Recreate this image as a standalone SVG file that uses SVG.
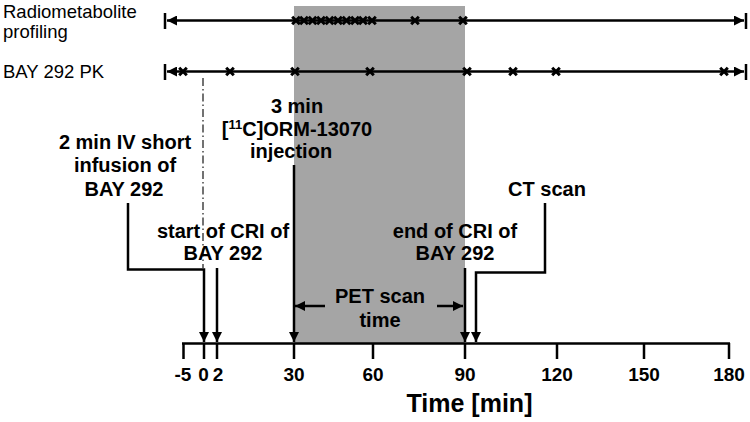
<svg xmlns="http://www.w3.org/2000/svg" width="750" height="422" viewBox="0 0 750 422">
<style>
.lbl{font-family:"Liberation Sans",Arial,sans-serif;font-size:18.5px;fill:#000}
.b{font-family:"Liberation Sans",Arial,sans-serif;font-size:20px;font-weight:bold;fill:#000;text-anchor:middle}
.tk{font-family:"Liberation Sans",Arial,sans-serif;font-size:19px;font-weight:bold;fill:#000;text-anchor:middle}
.ln{stroke:#000;stroke-width:2.5;fill:none}
.xm{stroke:#000;stroke-width:3;fill:none}
</style>
<defs>
<marker id="ah" viewBox="0 0 10 10" refX="10" refY="5" markerWidth="10" markerHeight="10" markerUnits="userSpaceOnUse" orient="auto-start-reverse">
<path d="M0,0 L10,5 L0,10 z" fill="#000"/>
</marker>
<path id="x" d="M-3.8,-3.8 L3.8,3.8 M-3.8,3.8 L3.8,-3.8" class="xm"/>
</defs>
<rect id="pet-band" x="294" y="6" width="171" height="337" fill="#a5a5a5"/>
<g id="row-radiometabolite">
<text class="lbl" x="3" y="18">Radiometabolite</text>
<text class="lbl" x="3" y="38">profiling</text>
<line class="ln" x1="167" y1="20.5" x2="744" y2="20.5" marker-start="url(#ah)" marker-end="url(#ah)"/>
<line class="ln" x1="165" y1="13" x2="165" y2="29"/>
<line class="ln" x1="746" y1="13" x2="746" y2="29"/>
<g transform="translate(0,20.5)">
<use href="#x" x="296"/><use href="#x" x="304"/><use href="#x" x="312.5"/><use href="#x" x="321"/><use href="#x" x="329.5"/><use href="#x" x="338"/><use href="#x" x="346.5"/><use href="#x" x="355"/><use href="#x" x="363"/><use href="#x" x="372"/><use href="#x" x="415"/><use href="#x" x="463"/>
</g>
</g>
<g id="row-pk">
<text class="lbl" x="3" y="78">BAY 292 PK</text>
<line class="ln" x1="167" y1="71.5" x2="744" y2="71.5" marker-start="url(#ah)" marker-end="url(#ah)"/>
<line class="ln" x1="165" y1="64" x2="165" y2="80"/>
<line class="ln" x1="746" y1="64" x2="746" y2="80"/>
<g transform="translate(0,71.5)">
<use href="#x" x="183"/><use href="#x" x="230"/><use href="#x" x="295"/><use href="#x" x="370"/><use href="#x" x="467"/><use href="#x" x="513"/><use href="#x" x="556"/><use href="#x" x="724"/>
</g>
</g>
<line id="t0-guide" x1="203" y1="78" x2="203" y2="268" stroke="#444" stroke-width="1.5" stroke-dasharray="8 3 1.5 3"/>
<g id="axis">
<line class="ln" x1="182" y1="343.5" x2="730" y2="343.5" stroke-width="3"/>
<path class="ln" stroke-width="3" d="M183.5,343 V359 M204,343 V359 M217,343 V359 M294,343 V359 M373,343 V359 M465,343 V359 M557,343 V359 M644,343 V359 M729,343 V359"/>
<text class="tk" x="183" y="381">-5</text>
<text class="tk" x="203.5" y="381">0</text>
<text class="tk" x="218" y="381">2</text>
<text class="tk" x="294" y="381">30</text>
<text class="tk" x="373" y="381">60</text>
<text class="tk" x="465" y="381">90</text>
<text class="tk" x="557" y="381">120</text>
<text class="tk" x="644" y="381">150</text>
<text class="tk" x="729" y="381">180</text>
<text x="469.5" y="412" font-family="Liberation Sans, Arial, sans-serif" font-size="25" font-weight="bold" text-anchor="middle">Time [min]</text>
</g>
<g id="label-iv">
<text class="b" x="125" y="149">2 min IV short</text>
<text class="b" x="125" y="172">infusion of</text>
<text class="b" x="124" y="196">BAY 292</text>
</g>
<g id="label-injection">
<text class="b" x="297" y="113">3 min</text>
<text class="b" x="297" y="136">[<tspan font-size="13" dy="-7">11</tspan><tspan dy="7">C]ORM-13070</tspan></text>
<text class="b" x="291" y="158">injection</text>
</g>
<g id="label-start-cri">
<text class="b" x="223" y="238">start of CRI of</text>
<text class="b" x="223" y="260">BAY 292</text>
</g>
<g id="label-end-cri">
<text class="b" x="455" y="238">end of CRI of</text>
<text class="b" x="455" y="260">BAY 292</text>
</g>
<g id="label-ct">
<text class="b" x="547" y="196">CT scan</text>
</g>
<g id="label-pet">
<text class="b" x="380" y="303">PET scan</text>
<text class="b" x="380" y="327">time</text>
</g>
<g id="connectors">
<path class="ln" d="M128,203 V269.5 H204 V342" marker-end="url(#ah)"/>
<path class="ln" d="M217,268 V342" marker-end="url(#ah)"/>
<path class="ln" d="M294,165 V342" marker-end="url(#ah)"/>
<path class="ln" d="M465,268 V342" marker-end="url(#ah)"/>
<path class="ln" d="M545,203 V272.5 H476 V342" marker-end="url(#ah)"/>
<path class="ln" d="M325,306 H295" marker-end="url(#ah)"/>
<path class="ln" d="M437,306 H463" marker-end="url(#ah)"/>
</g>
</svg>
